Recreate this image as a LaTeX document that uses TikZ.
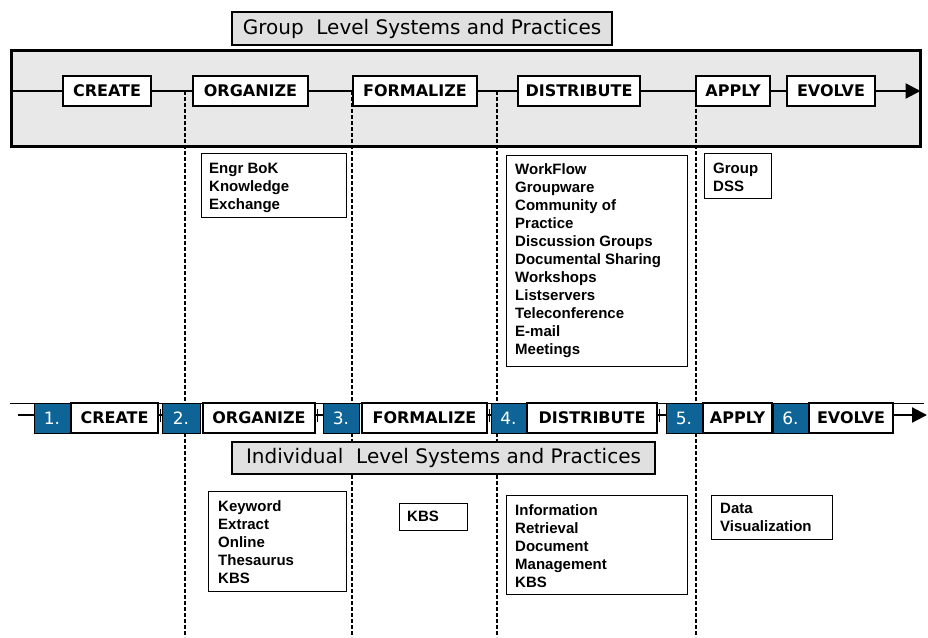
\documentclass[tikz,border=0pt]{standalone}
\usepackage{fontspec}
\setmainfont{DejaVu Sans}
\newfontfamily\listfont{Liberation Sans}
\usetikzlibrary{arrows.meta}
\definecolor{stageblue}{HTML}{0E6496}
\definecolor{panelgray}{HTML}{E8E8E8}
\definecolor{titlegray}{HTML}{E0E0E0}
\tikzset{
  stagebox/.style={draw=black, fill=white, line width=1.2pt, minimum height=30pt,
    inner sep=0pt, font=\bfseries\fontsize{16}{18}\selectfont},
  numbox/.style={draw=black, fill=stageblue, text=white, line width=0.8pt,
    minimum height=30pt, inner sep=0pt, font=\fontsize{17}{20}\selectfont},
  titlebox/.style={draw=black, fill=titlegray, line width=1.2pt, inner sep=0pt,
    font=\fontsize{20}{24}\selectfont},
  listbox/.style={draw=black, line width=1.2pt, inner sep=0pt, anchor=north west},
  listtext/.style={inner sep=0pt, anchor=north west, align=left,
    font=\listfont\bfseries\fontsize{15}{18}\selectfont},
  flow/.style={line width=2.2pt},
  flowarrow/.style={line width=2.2pt, -{Triangle[length=15pt,width=15pt]}},
  guide/.style={line width=1.2pt, dash pattern=on 4pt off 2pt},
  tick/.style={line width=1.2pt}
}
\begin{document}
\begin{tikzpicture}[x=1pt, y=-1pt]
\useasboundingbox (0,0) rectangle (928,637);

% group level panel and its title tab
\node[draw=black, fill=panelgray, line width=3pt, minimum width=909pt,
      minimum height=96pt, inner sep=0pt, anchor=north west] (frame) at (9.5,48.5) {};
\node[titlebox, minimum width=380pt, minimum height=33pt] (gtitle) at (422,28.5)
  {Group\ \ Level Systems and Practices};

% column guides
\foreach \n/\gx in {1/185, 2/352, 3/497, 4/696} {
  \coordinate (g\n top) at (\gx,91);
  \coordinate (g\n bot) at (\gx,637);
  \draw[guide] (g\n top) -- (g\n bot);
}

% group level stages
\node[stagebox, minimum width=88pt]  (t1) at (107,91)   {CREATE};
\node[stagebox, minimum width=115pt] (t2) at (250.5,91) {ORGANIZE};
\node[stagebox, minimum width=124pt] (t3) at (415,91)   {FORMALIZE};
\node[stagebox, minimum width=122pt] (t4) at (579,91)   {DISTRIBUTE};
\node[stagebox, minimum width=74pt]  (t5) at (733,91)   {APPLY};
\node[stagebox, minimum width=88pt]  (t6) at (831,91)   {EVOLVE};

\draw[flow] (frame.west |- t1.west) -- (t1.west);
\draw[flow] (t1.east) -- (t2.west);
\draw[flow] (t2.east) -- (t3.west);
\draw[flow] (t3.east) -- (t4.west);
\draw[flow] (t4.east) -- (t5.west);
\draw[flow] (t5.east) -- (t6.west);
\draw[flowarrow, shorten >=1pt] (t6.east) -- (frame.east |- t6.east);

% group level tools
\node[listbox, minimum width=145pt, minimum height=64pt] (engr) at (201,153) {};
\node[listtext] (engrT) at ([xshift=8pt,yshift=-10pt]engr.north west)
  {Engr BoK\\Knowledge\\Exchange};

\node[listbox, minimum width=181pt, minimum height=211pt] (work) at (506,155) {};
\node[listtext] (workT) at ([xshift=9pt,yshift=-8pt]work.north west)
  {WorkFlow\\Groupware\\Community of\\Practice\\Discussion Groups\\Documental Sharing\\Workshops\\Listservers\\Teleconference\\E-mail\\Meetings};

\node[listbox, minimum width=67pt, minimum height=45pt] (gdss) at (704,153) {};
\node[listtext] (gdssT) at ([xshift=9pt,yshift=-10pt]gdss.north west)
  {Group\\DSS};

% individual level row
\coordinate (rowL) at (10,403);
\coordinate (rowR) at (924,403);
\draw[line width=1pt] (rowL) -- (rowR);

\node[numbox, minimum width=36pt] (n1) at (52,418)    {1.};
\node[stagebox, minimum width=87pt, anchor=west] (b1) at (n1.east) {CREATE};
\node[numbox, minimum width=38pt] (n2) at (181,418)   {2.};
\node[stagebox, minimum width=112pt, anchor=west] (b2) at ([xshift=2pt]n2.east) {ORGANIZE};
\node[numbox, minimum width=36pt] (n3) at (341,418)   {3.};
\node[stagebox, minimum width=125pt, anchor=west] (b3) at ([xshift=2pt]n3.east) {FORMALIZE};
\node[numbox, minimum width=35pt] (n4) at (508.5,418) {4.};
\node[stagebox, minimum width=130pt, anchor=west] (b4) at (n4.east) {DISTRIBUTE};
\node[numbox, minimum width=36pt] (n5) at (684,418)   {5.};
\node[stagebox, minimum width=69pt, anchor=west] (b5) at (n5.east) {APPLY};
\node[numbox, minimum width=35pt] (n6) at (790.5,418) {6.};
\node[stagebox, minimum width=84pt, anchor=west] (b6) at (n6.east) {EVOLVE};

\coordinate (bStart) at (18,415);
\coordinate (bEnd) at (927,415);
\draw[flow] (bStart) -- (n1.west |- bStart);
\foreach \a/\b in {b1/n2, b2/n3, b3/n4, b4/n5} {
  \draw[flow] ([yshift=3pt]\a.east) -- ([yshift=3pt]\b.west);
  \draw[tick] ([xshift=2pt,yshift=9pt]\a.east) -- ([xshift=2pt,yshift=-4pt]\a.east);
}
\draw[flowarrow] ([yshift=3pt]b6.east) -- (bEnd);

\node[titlebox, minimum width=423pt, minimum height=32pt] (ititle) at (443.5,458)
  {Individual\ \ Level Systems and Practices};

% individual level tools
\node[listbox, minimum width=138pt, minimum height=100pt] (kw) at (208,491) {};
\node[listtext] (kwT) at ([xshift=10pt,yshift=-9pt]kw.north west)
  {Keyword\\Extract\\Online\\Thesaurus\\KBS};

\node[listbox, minimum width=68pt, minimum height=27pt] (kbs) at (399,503) {};
\node[listtext] (kbsT) at ([xshift=8pt,yshift=-8pt]kbs.north west) {KBS};

\node[listbox, minimum width=181pt, minimum height=99pt] (info) at (506,495) {};
\node[listtext] (infoT) at ([xshift=9pt,yshift=-9pt]info.north west)
  {Information\\Retrieval\\Document\\Management\\KBS};

\node[listbox, minimum width=121pt, minimum height=44pt] (data) at (711,495) {};
\node[listtext] (dataT) at ([xshift=9pt,yshift=-8pt]data.north west)
  {Data\\Visualization};
\end{tikzpicture}
\end{document}
